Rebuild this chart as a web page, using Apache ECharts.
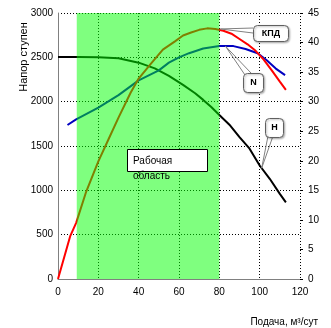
<!DOCTYPE html>
<html>
<head>
<meta charset="utf-8">
<script src="https://cdn.jsdelivr.net/npm/echarts@6/dist/echarts.min.js"></script>
<style>
  html, body { margin: 0; padding: 0; background: #fff; }
  #chart { width: 331px; height: 328px; }
</style>
</head>
<body>
<div id="chart"></div>
<script>
// Подача, м3/сут
const xTicks = [0, 20, 40, 60, 80, 100, 120];

// КПД, % (right axis)
const kpdX = [0, 3, 6, 9, 14, 20, 25, 30, 36, 40, 46, 52, 58, 62, 66, 70, 74, 78, 82, 86, 90, 94, 98, 102, 106, 110, 113];
const kpdY = [0, 3.6, 7.2, 9.5, 14.8, 19.9, 23.6, 27.3, 31.5, 33.9, 36.4, 38.8, 40.2, 41.2, 41.7, 42.15, 42.4, 42.3, 42.0, 41.5, 40.6, 39.7, 38.6, 37.1, 35.3, 33.4, 32.0];

// N (right axis)
const nX = [4.7, 9, 20, 30, 40, 50, 55, 60, 65, 72, 80, 87, 93, 99, 103.5, 108, 112.6];
const nY = [26.05, 27.0, 29.0, 31.1, 33.6, 35.3, 36.6, 37.5, 38.2, 39.0, 39.4, 39.4, 38.9, 38.2, 37.0, 35.6, 34.5];

// Напор ступени (left axis)
const hX = [0, 10, 20, 30, 40, 48, 55, 62, 68, 72, 76, 80, 85, 90, 95, 100, 105, 110, 113];
const hY = [2505, 2505, 2500, 2490, 2440, 2376, 2290, 2190, 2095, 2020, 1940, 1850, 1740, 1600, 1470, 1280, 1130, 960, 865];

// working range
const workFrom = 9.3;
const workTo = 80;

const pairs = (xs, ys) => xs.map((x, i) => [x, ys[i]]);

const labelFont = { fontFamily: 'Liberation Sans Narrow, Liberation Sans, Arial', fontSize: 10, color: '#000', formatter: v => String(v) };

const chart = echarts.init(document.getElementById('chart'));

const option = {
  animation: false,
  grid: { left: 58, right: 31, top: 13, bottom: 49 },
  xAxis: {
    type: 'value',
    min: 0,
    max: 120,
    interval: 20,
    axisLine: { lineStyle: { color: '#808080', width: 1 } },
    axisTick: { show: false },
    axisLabel: { ...labelFont, margin: 8 },
    splitLine: { show: true, lineStyle: { color: '#000', type: [1, 2] } }
  },
  yAxis: [
    {
      type: 'value',
      min: 0,
      max: 3000,
      interval: 500,
      axisLine: { show: true, lineStyle: { color: '#808080', width: 1 } },
      axisTick: { show: false },
      axisLabel: { ...labelFont, margin: 5 },
      splitLine: { show: true, lineStyle: { color: '#000', type: [1, 2] } }
    },
    {
      type: 'value',
      min: 0,
      max: 45,
      interval: 5,
      position: 'right',
      axisLine: { show: false },
      axisTick: { show: true, length: 3, lineStyle: { color: '#000' } },
      axisLabel: { ...labelFont, margin: 8 },
      splitLine: { show: false }
    }
  ],
  series: [
    {
      name: 'Н',
      type: 'line',
      data: pairs(hX, hY),
      yAxisIndex: 0,
      symbol: 'none',
      z: 3,
      lineStyle: { width: 2, color: '#000' }
    },
    {
      name: 'N',
      type: 'line',
      data: pairs(nX, nY),
      yAxisIndex: 1,
      symbol: 'none',
      z: 3,
      lineStyle: { width: 2, color: '#0000c0' }
    },
    {
      name: 'КПД',
      type: 'line',
      data: pairs(kpdX, kpdY),
      yAxisIndex: 1,
      symbol: 'none',
      z: 3,
      lineStyle: { width: 2, color: '#ff0000' }
    },
    {
      // half-transparent green band laid over the curves
      name: 'Рабочая область',
      type: 'line',
      data: [],
      z: 5,
      markArea: {
        silent: true,
        z: 8,
        itemStyle: { color: 'rgba(0,255,0,0.5)' },
        data: [[{ xAxis: workFrom }, { xAxis: workTo }]]
      }
    }
  ]
};

chart.setOption(option);

// callouts: anchor on curve (data coords), box in pixels
const right = { xAxisIndex: 0, yAxisIndex: 1 };
const left = { xAxisIndex: 0, yAxisIndex: 0 };
const callouts = [
  { text: 'КПД', at: chart.convertToPixel(right, [80.5, 42.3]), box: [253, 25, 35, 16], base: [[253, 28], [253, 33]] },
  { text: 'N', at: chart.convertToPixel(right, [83, 39.4]), box: [243, 73, 20, 19], base: [[245, 75], [251, 73]] },
  { text: 'Н', at: chart.convertToPixel(left, [101, 1250]), box: [265, 118, 18, 19], base: [[268, 136], [273, 136]] }
];

const graphic = [
  {
    type: 'text',
    x: 24,
    y: 57,
    rotation: Math.PI / 2,
    style: { text: 'Напор ступен', font: '11px Liberation Sans, Arial', fill: '#000', align: 'center', verticalAlign: 'middle' }
  },
  {
    type: 'text',
    x: 318,
    y: 322,
    style: { text: 'Подача, м³/сут', font: '10px Liberation Sans Narrow, Liberation Sans, Arial', fill: '#000', align: 'right', verticalAlign: 'middle' }
  },
  {
    type: 'rect',
    z: 10,
    shape: { x: 127.5, y: 149.5, width: 80, height: 22 },
    style: { fill: '#fff', stroke: '#000', lineWidth: 1 }
  },
  {
    type: 'text',
    z: 11,
    x: 133,
    y: 161,
    style: { text: 'Рабочая', font: '10px Liberation Sans, Arial', fill: '#000', verticalAlign: 'middle' }
  },
  {
    type: 'text',
    z: 11,
    x: 133,
    y: 176,
    style: { text: 'область', font: '10px Liberation Sans, Arial', fill: '#000', verticalAlign: 'middle' }
  }
];

callouts.forEach(c => {
  graphic.push({
    type: 'polyline',
    z: 10,
    shape: { points: [c.base[0], c.at, c.base[1]] },
    style: { stroke: '#808080', lineWidth: 1, fill: null }
  });
  graphic.push({
    type: 'rect',
    z: 11,
    shape: { x: c.box[0] + 0.5, y: c.box[1] + 0.5, width: c.box[2], height: c.box[3], r: 4 },
    style: { fill: '#fff', stroke: '#606060', lineWidth: 1, shadowBlur: 2, shadowColor: 'rgba(0,0,0,0.3)', shadowOffsetX: 1, shadowOffsetY: 1 }
  });
  graphic.push({
    type: 'text',
    z: 12,
    x: c.box[0] + c.box[2] / 2 + 0.5,
    y: c.box[1] + c.box[3] / 2 + 0.5,
    style: { text: c.text, font: 'bold 9px Liberation Sans, Arial', fill: '#000', align: 'center', verticalAlign: 'middle' }
  });
});

// redraw once from scratch with the callouts included
chart.clear();
chart.setOption({ ...option, graphic }, { notMerge: true });
</script>
</body>
</html>
